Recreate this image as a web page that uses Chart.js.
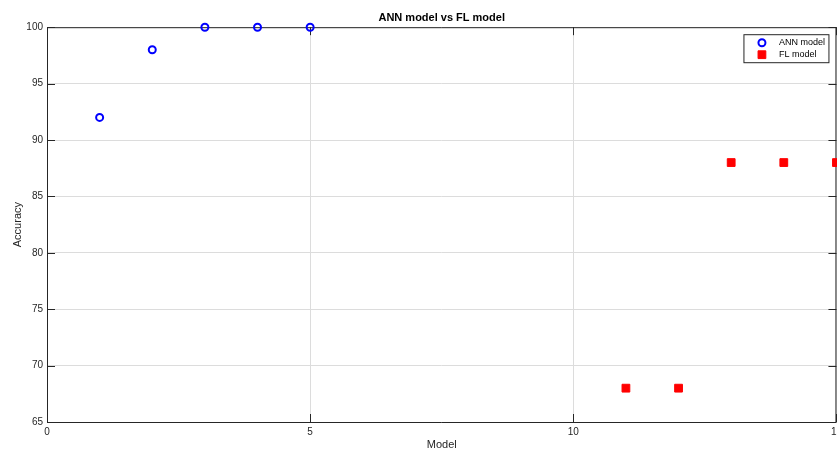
<!DOCTYPE html>
<html>
<head>
<meta charset="utf-8">
<script src="https://cdn.jsdelivr.net/npm/chart.js@4"></script>
<style>
  html, body { margin: 0; padding: 0; background: #fff; overflow: hidden; }
  #wrap { width: 837px; height: 452px; overflow: hidden; }
</style>
</head>
<body>
<div id="wrap"><canvas id="chart" width="846" height="452"></canvas></div>
<script>
// ------------------------
// Data
// ------------------------
const annModels = [1, 2, 3, 4, 5]
const annAccuracy = [92, 98, 100, 100, 100]

const flModels = [11, 12, 13, 14, 15]
const flAccuracy = [68, 68, 88, 88, 88]

const xTicks = [0, 5, 10, 15]
const yTicks = [65, 70, 75, 80, 85, 90, 95, 100]

const toPoints = (xs, ys) => xs.map((x, i) => ({ x, y: ys[i] }))

const FONT = 'Liberation Sans, Arial, Helvetica, sans-serif'
const AXIS_COLOR = '#262626'

// ------------------------
// Plugins
// ------------------------

// box round the plot with inward tick marks on all four sides
const frame = {
  id: 'frame',
  beforeDatasetsDraw(chart) {
    const { ctx, chartArea: a, scales } = chart
    const len = 8
    ctx.save()
    ctx.strokeStyle = AXIS_COLOR
    ctx.lineWidth = 1
    ctx.beginPath()
    ctx.rect(a.left + 0.5, a.top + 0.5, a.right - a.left - 1, a.bottom - a.top)
    xTicks.forEach((v) => {
      const px = Math.round(scales.x.getPixelForValue(v)) + 0.5
      ctx.moveTo(px, a.bottom)
      ctx.lineTo(px, a.bottom - len)
      ctx.moveTo(px, a.top)
      ctx.lineTo(px, a.top + len)
    })
    yTicks.forEach((v) => {
      const py = Math.round(scales.y.getPixelForValue(v)) + 0.5
      ctx.moveTo(a.left, py)
      ctx.lineTo(a.left + len, py)
      ctx.moveTo(a.right, py)
      ctx.lineTo(a.right - len, py)
    })
    ctx.stroke()
    ctx.restore()
  },
}

// legend drawn inside the plot, top right
const insideLegend = {
  id: 'insideLegend',
  afterDraw(chart) {
    const { ctx, chartArea: a } = chart
    const w = 85
    const h = 28
    const x0 = a.right - w - 7.5
    const y0 = a.top + 7.5
    ctx.save()
    ctx.fillStyle = '#fff'
    ctx.strokeStyle = '#262626'
    ctx.lineWidth = 1
    ctx.fillRect(x0, y0, w, h)
    ctx.strokeRect(x0, y0, w, h)
    ctx.font = `9px ${FONT}`
    ctx.textBaseline = 'middle'
    chart.data.datasets.forEach((ds, i) => {
      const cy = y0 + 8 + i * 12
      const cx = x0 + 18
      ctx.fillStyle = ds.backgroundColor
      ctx.strokeStyle = ds.borderColor
      ctx.lineWidth = ds.borderWidth
      ctx.beginPath()
      if (ds.pointStyle === 'circle') {
        ctx.arc(cx, cy, ds.pointRadius, 0, Math.PI * 2)
        ctx.stroke()
      } else {
        const s = ds.pointRadius * Math.SQRT1_2
        ctx.rect(cx - s, cy - s, 2 * s, 2 * s)
        ctx.fill()
        ctx.stroke()
      }
      ctx.fillStyle = '#000'
      ctx.fillText(ds.label, x0 + 35, cy)
    })
    ctx.restore()
  },
}

// ------------------------
// Chart
// ------------------------
new Chart(document.getElementById('chart'), {
  type: 'scatter',

  data: {
    datasets: [
      {
        label: 'ANN model',
        data: toPoints(annModels, annAccuracy),
        pointStyle: 'circle',
        pointRadius: 3.5,
        pointHoverRadius: 3.5,
        borderWidth: 2,
        borderColor: '#0000ff',
        backgroundColor: 'rgba(0,0,0,0)',
        clip: false,
      },
      {
        label: 'FL model',
        data: toPoints(flModels, flAccuracy),
        pointStyle: 'rect',
        pointRadius: 5.5,
        pointHoverRadius: 5.5,
        borderWidth: 1,
        borderColor: '#ff0000',
        backgroundColor: '#ff0000',
        clip: false,
      },
    ],
  },

  options: {
    responsive: false,
    animation: false,
    events: [],

    layout: {
      padding: { left: 0, right: 1, top: 0, bottom: 0 },
    },

    scales: {
      x: {
        type: 'linear',
        min: 0,
        max: 15,
        afterBuildTicks: (scale) => {
          scale.ticks = xTicks.map((value) => ({ value }))
        },
        afterFit: (scale) => {
          scale.height = 30
        },
        border: { display: false },
        grid: { color: '#dcdcdc', lineWidth: 1, drawTicks: false },
        ticks: {
          color: AXIS_COLOR,
          font: { family: FONT, size: 10 },
          padding: 4,
          maxRotation: 0,
          autoSkip: false,
        },
        title: {
          display: true,
          text: 'Model',
          color: AXIS_COLOR,
          font: { family: FONT, size: 11 },
          padding: { top: 0, bottom: 0 },
        },
      },
      y: {
        type: 'linear',
        min: 65,
        max: 100,
        afterBuildTicks: (scale) => {
          scale.ticks = yTicks.map((value) => ({ value }))
        },
        afterFit: (scale) => {
          scale.width = 47
          scale.paddingTop = 0
          scale.paddingBottom = 0
        },
        border: { display: false },
        grid: { color: '#dcdcdc', lineWidth: 1, drawTicks: false },
        ticks: {
          color: AXIS_COLOR,
          font: { family: FONT, size: 10 },
          padding: 4,
          autoSkip: false,
        },
        title: {
          display: true,
          text: 'Accuracy',
          color: AXIS_COLOR,
          font: { family: FONT, size: 11 },
          padding: { top: 11, bottom: 0 },
        },
      },
    },

    plugins: {
      legend: { display: false },
      tooltip: { enabled: false },
      title: {
        display: true,
        fullSize: false,
        text: 'ANN model vs FL model',
        color: '#000',
        font: { family: FONT, size: 11, weight: 'bold' },
        padding: { top: 11, bottom: 3 },
      },
    },
  },

  plugins: [frame, insideLegend],
})
</script>
</body>
</html>
